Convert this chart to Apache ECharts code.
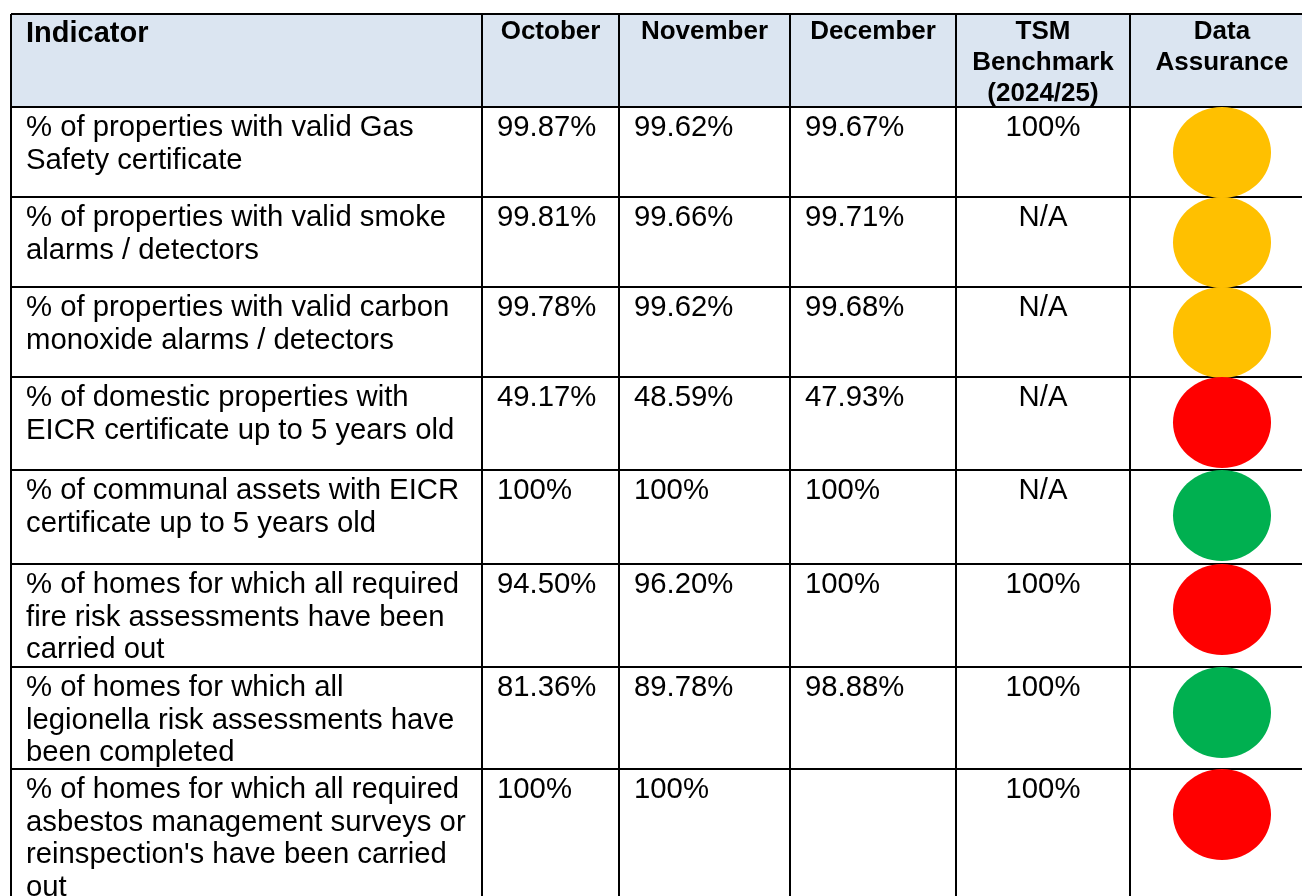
<!DOCTYPE html>
<html>
<head>
<meta charset="utf-8">
<title>Compliance indicators</title>
<script src="https://cdn.jsdelivr.net/npm/echarts@6/dist/echarts.min.js"></script>
<style>
  html, body { margin: 0; padding: 0; background: #fff; }
  #main { width: 1302px; height: 896px; }
</style>
</head>
<body>
<div id="main"></div>
<script>
// table content
var headers = ["Indicator", "October", "November", "December", "TSM\nBenchmark\n(2024/25)", "Data\nAssurance"];
var indicators = [
  "% of properties with valid Gas\nSafety certificate",
  "% of properties with valid smoke\nalarms / detectors",
  "% of properties with valid carbon\nmonoxide alarms / detectors",
  "% of domestic properties with\nEICR certificate up to 5 years old",
  "% of communal assets with EICR\ncertificate up to 5 years old",
  "% of homes for which all required\nfire risk assessments have been\ncarried out",
  "% of homes for which all\nlegionella risk assessments have\nbeen completed",
  "% of homes for which all required\nasbestos management surveys or\nreinspection's have been carried\nout"
];
var october = ["99.87%", "99.81%", "99.78%", "49.17%", "100%", "94.50%", "81.36%", "100%"];
var november = ["99.62%", "99.66%", "99.62%", "48.59%", "100%", "96.20%", "89.78%", "100%"];
var december = ["99.67%", "99.71%", "99.68%", "47.93%", "100%", "100%", "98.88%", ""];
var tsmBenchmark = ["100%", "N/A", "N/A", "N/A", "N/A", "100%", "100%", "100%"];
var assurance = ["amber", "amber", "amber", "red", "green", "red", "green", "red"];

// layout, in the pixel frame of the 1302x896 page
var colEdges = [11, 482, 619, 790, 956, 1130, 1314];
var rowEdges = [14, 107, 197, 287, 377, 470, 564, 667, 769, 930];
var statusColors = { amber: "#FFC000", red: "#FF0000", green: "#00B050" };
var FONT = '"Liberation Sans", Arial, sans-serif';

var columns = [indicators, october, november, december, tsmBenchmark];

var chartDom = document.getElementById("main");
var myChart = echarts.init(chartDom);
var option;

function rect(c0, c1, r0, r1, api) {
  var p0 = api.coord([colEdges[c0], rowEdges[r0]]);
  var p1 = api.coord([colEdges[c1], rowEdges[r1]]);
  return { x: p0[0], y: p0[1], width: p1[0] - p0[0], height: p1[1] - p0[1] };
}

// header row: light blue cells with bold titles
function renderHeader(params, api) {
  var c = api.value(0);
  var r = rect(c, c + 1, 0, 1, api);
  var first = c === 0;
  return {
    type: "group",
    children: [
      { type: "rect", shape: r, style: { fill: "#DBE5F1" } },
      {
        type: "text",
        style: {
          text: headers[c],
          x: first ? r.x + 15 : r.x + r.width / 2,
          y: r.y + (first ? 4 : 2),
          align: first ? "left" : "center",
          verticalAlign: "top",
          fontFamily: FONT,
          fontWeight: "bold",
          fontSize: first ? 29 : 26,
          lineHeight: first ? 32 : 31,
          fill: "#000"
        }
      }
    ]
  };
}

// body cells: text only
function renderCell(params, api) {
  var row = api.value(0);
  var c = api.value(1);
  var r = rect(c, c + 1, row + 1, row + 2, api);
  var centered = c === 4;
  return {
    type: "text",
    style: {
      text: columns[c][row],
      x: centered ? r.x + r.width / 2 : r.x + 15,
      y: r.y + 5,
      align: centered ? "center" : "left",
      verticalAlign: "top",
      fontFamily: FONT,
      fontSize: 29.3,
      lineHeight: 32.5,
      fill: "#000"
    }
  };
}

// grid lines
function renderLine(params, api) {
  var kind = api.value(0);
  var i = api.value(1);
  var a, b;
  if (kind === 0) {
    a = api.coord([colEdges[0], rowEdges[i]]);
    b = api.coord([colEdges[colEdges.length - 1], rowEdges[i]]);
  } else {
    a = api.coord([colEdges[i], rowEdges[0]]);
    b = api.coord([colEdges[i], rowEdges[rowEdges.length - 1]]);
  }
  return {
    type: "line",
    shape: { x1: a[0], y1: a[1], x2: b[0], y2: b[1] },
    style: { stroke: "#000", lineWidth: 2 }
  };
}

// assurance status dots
function renderStatus(params, api) {
  var row = api.value(0);
  var cx = (colEdges[5] + colEdges[6]) / 2;
  var top = rowEdges[row + 1];
  var center = api.coord([cx, top + 45.5]);
  var size = api.size([98, 91]);
  return {
    type: "ellipse",
    shape: { cx: center[0], cy: center[1], rx: size[0] / 2, ry: size[1] / 2 },
    style: { fill: statusColors[assurance[row]] }
  };
}

var headerData = headers.map(function (h, i) { return [i]; });
var cellData = [];
indicators.forEach(function (t, r) {
  for (var c = 0; c < columns.length; c++) cellData.push([r, c]);
});
var lineData = [];
rowEdges.forEach(function (y, i) { lineData.push([0, i]); });
colEdges.forEach(function (x, i) { lineData.push([1, i]); });
var statusData = assurance.map(function (s, i) { return [i]; });

option = {
  animation: false,
  grid: { left: 0, right: 0, top: 0, bottom: 0 },
  xAxis: { type: "value", min: 0, max: 1302, show: false },
  yAxis: { type: "value", min: 0, max: 896, inverse: true, show: false },
  series: [
    { type: "custom", name: "header", renderItem: renderHeader, data: headerData, z: 1 },
    { type: "custom", name: "cells", renderItem: renderCell, data: cellData, z: 2 },
    { type: "custom", name: "lines", renderItem: renderLine, data: lineData, z: 3 },
    { type: "custom", name: "assurance", renderItem: renderStatus, data: statusData, z: 4 }
  ]
};

option && myChart.setOption(option);
</script>
</body>
</html>
